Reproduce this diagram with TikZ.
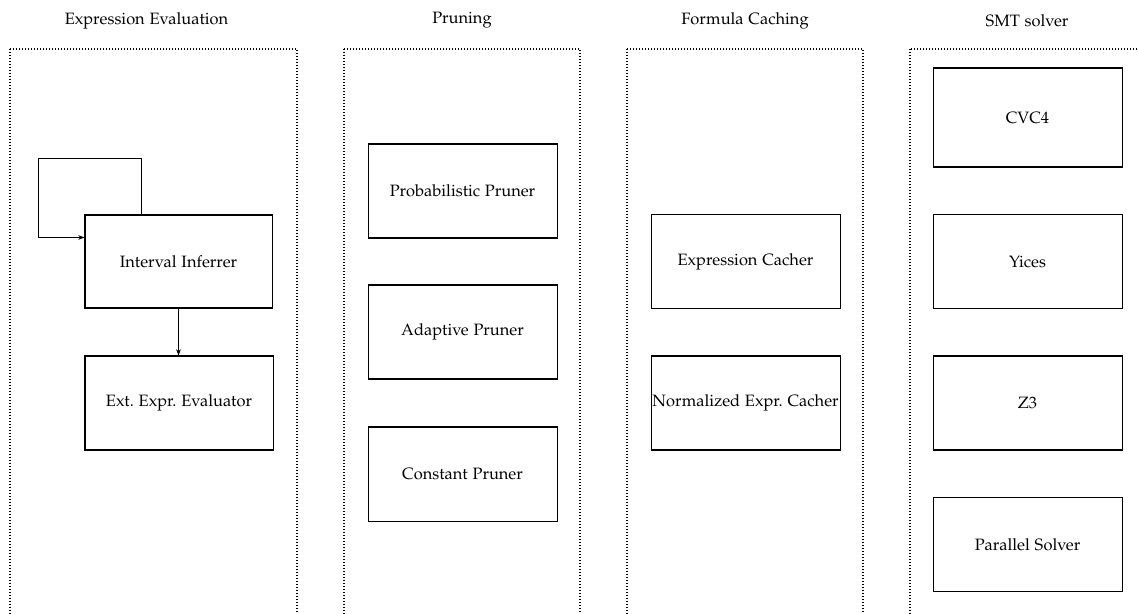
\documentclass[tikz,border=0pt]{standalone}
\usepackage[T1]{fontenc}
\usepackage[sc]{mathpazo}
\usetikzlibrary{arrows.meta,calc}
\begin{document}
\begin{tikzpicture}[x=0.645pt,y=-0.645pt,
  every node/.style={font=\fontsize{10.6}{12.5}\selectfont},
  box/.style={draw,line width=0.65pt,inner sep=0pt,minimum width=189*0.645pt,minimum height=94*0.645pt,align=center},
  panel/.style={draw,line width=0.7pt,dash pattern=on 0.8pt off 1.135pt},
  title/.style={inner sep=0pt,anchor=center},
  arr/.style={-{Stealth[length=4pt,width=3pt]},line width=0.5pt}]
\useasboundingbox (0,0) rectangle (1138,614);
\clip (0,0) rectangle (1138,614);
% panels
\draw[panel] (10,49) rectangle (297,700);
\draw[panel] (344,49) rectangle (580,700);
\draw[panel] (627,49) rectangle (863,700);
\draw[panel] (910,49) rectangle (1145,700);
% titles
\node[title] (t1) at (146.5,20.5) {Expression Evaluation};
\node[title] (t2) at (462,20.5) {Pruning};
\node[title] (t3) at (745,20.5) {Formula Caching};
\node[title] (t4) at (1027,20.5) {SMT solver};
% panel 1
\node[box,minimum width=187*0.645pt,minimum height=93*0.645pt] (II) at (178.5,261.5) {Interval Inferrer};
\node[box,minimum width=188*0.645pt] (EE) at (179,403) {Ext.\ Expr.\ Evaluator};
\coordinate (lA) at (38,158);
\draw[arr] ($(II.north west)+(57,0)$) |- (lA) |- ($(II.north west)+(0,23)$);
\draw[arr] (II.south) -- (II.south |- EE.north);
% panel 2
\node[box] (PP) at (462.5,191) {Probabilistic Pruner};
\node[box] (AP) at (462.5,332) {Adaptive Pruner};
\node[box] (CP) at (462.5,474) {Constant Pruner};
% panel 3
\node[box] (EC) at (745.5,261.5) {Expression Cacher};
\node[box] (NC) at (745.5,403) {Normalized Expr.\ Cacher};
% panel 4
\node[box,minimum height=99*0.645pt] (CV) at (1027.5,117.5) {CVC4};
\node[box] (YI) at (1027.5,261.5) {Yices};
\node[box] (Z3) at (1027.5,403) {Z3};
\node[box] (PS) at (1027.5,544.5) {Parallel Solver};
\end{tikzpicture}
\end{document}
